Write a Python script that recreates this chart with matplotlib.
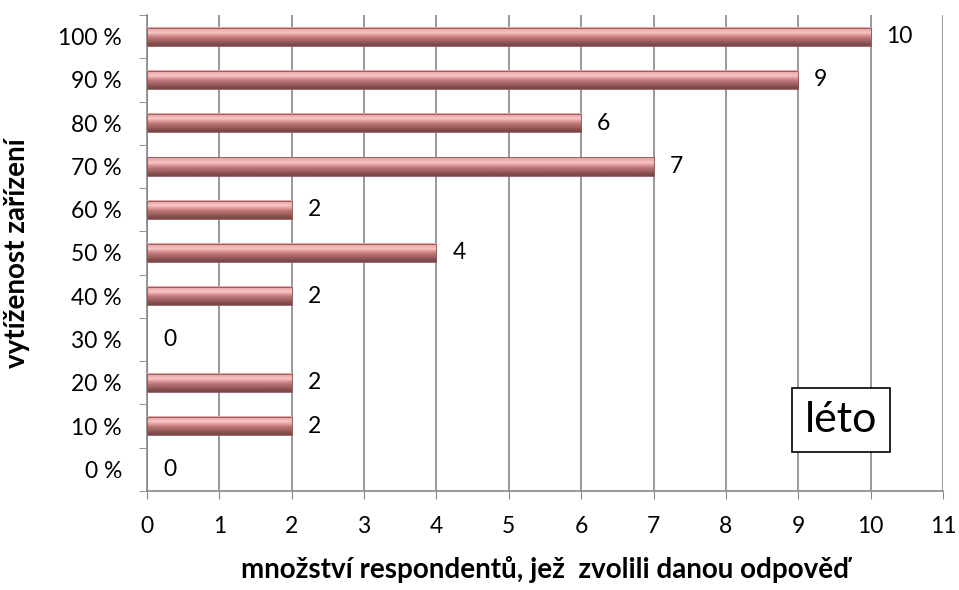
import matplotlib.pyplot as plt
import numpy as np
from matplotlib.colors import LinearSegmentedColormap

categories = ["0 %", "10 %", "20 %", "30 %", "40 %", "50 %", "60 %", "70 %", "80 %", "90 %", "100 %"]
counts = [0, 2, 2, 0, 2, 4, 2, 7, 6, 9, 10]

plt.rcParams['font.family'] = ['Lato', 'DejaVu Sans']

fig = plt.figure(figsize=(9.59, 5.9), dpi=100)
ax = fig.add_axes([0.1533, 0.1678, 0.8300, 0.8068])

# vertical gradient for the "3D" bar look (top light, bottom dark)
grad = np.array([[0.0], [0.15], [0.35], [0.6], [0.8], [1.0]])
cmap = LinearSegmentedColormap.from_list("bar", ["#e9a5a5", "#f7c4c4", "#d99292", "#b87373", "#9e5f5f", "#7a4747"])

h = 0.42
for i, v in enumerate(counts):
    if v > 0:
        ax.imshow(grad, cmap=cmap, aspect='auto', extent=(0, v, i - h / 2, i + h / 2),
                  origin='upper', zorder=3, interpolation='bicubic')
        ax.barh(i, v, height=h, color='none', edgecolor='#8a5656', linewidth=0.6, zorder=4)
    ax.text(v + 0.22, i, str(v), va='center', ha='left', fontsize=16.5, zorder=5)

ax.set_xlim(0, 11)
ax.set_ylim(-0.5, len(categories) - 0.5)
ax.set_xticks(range(0, 12))
ax.set_yticks(range(len(categories)))
ax.set_yticklabels(categories)
ax.set_yticks(np.arange(-0.5, len(categories), 1), minor=True)
ax.tick_params(axis='y', which='major', length=0, labelsize=16.5, pad=18)
ax.tick_params(axis='y', which='minor', length=6, color='#888888', direction='out')
ax.tick_params(axis='x', length=6, color='#888888', labelsize=16.5, pad=12)

ax.grid(axis='x', color='#888888', linewidth=1.2, zorder=0)
ax.set_axisbelow(True)
for s in ['top', 'right']:
    ax.spines[s].set_visible(False)
for s in ['left', 'bottom']:
    ax.spines[s].set_color('#888888')
    ax.spines[s].set_linewidth(1.2)

ax.set_xlabel("množství respondentů, jež  zvolili danou odpověď", fontsize=20, fontweight='bold', labelpad=14)
ax.set_ylabel("vytíženost zařízení", fontsize=20, fontweight='bold', labelpad=20)

ax.text(0.872, 0.149, "léto", transform=ax.transAxes, fontsize=31, ha='center', va='center',
        bbox=dict(boxstyle='square,pad=0.3', facecolor='white', edgecolor='black', linewidth=1.2), zorder=6)

fig.savefig("out.png", dpi=100)
